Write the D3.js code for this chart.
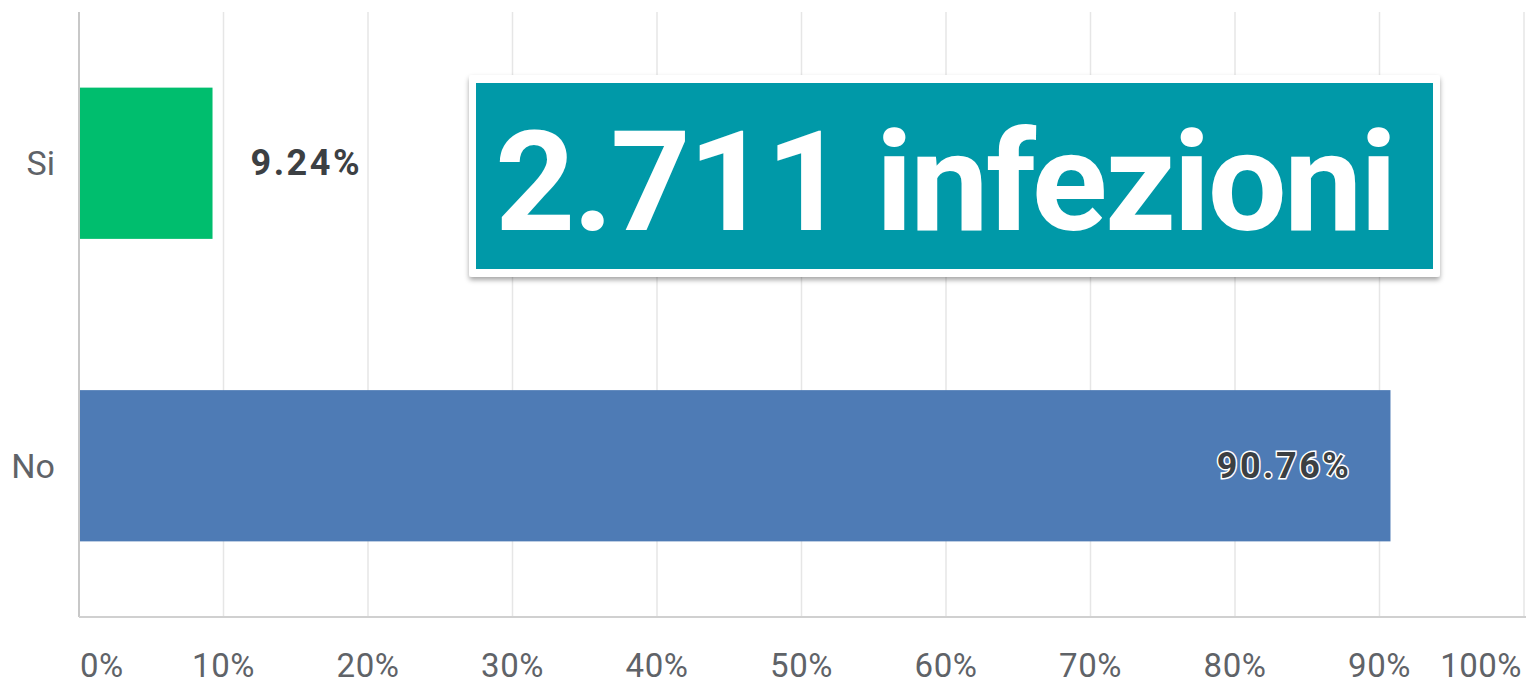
<!DOCTYPE html>
<html><head><meta charset="utf-8">
<script src="https://cdn.jsdelivr.net/npm/d3@7"></script>
<style>html,body{margin:0;padding:0;background:#fff;overflow:hidden}</style>
</head><body>
<svg id="c" width="1531" height="685"></svg>
<script>
const categories = ["Si", "No"];
const values = [9.24, 90.76];
const colors = ["#00be6e", "#4e7bb5"];
const ticks = [0, 10, 20, 30, 40, 50, 60, 70, 80, 90, 100];
const overlayText = "2.711 infezioni";

const svg = d3.select("#c");
const m = {left: 79, right: 1524, top: 12, bottom: 617};
const x = d3.scaleLinear().domain([0, 100]).range([m.left, m.right]);
const y = d3.scaleBand().domain(categories).range([m.top, m.bottom]).padding(0.5).paddingOuter(0.25);

const defs = svg.append("defs");
const f = defs.append("filter").attr("id", "sh").attr("x", "-5%").attr("y", "-10%").attr("width", "110%").attr("height", "130%");
f.append("feDropShadow").attr("dx", 0).attr("dy", 3).attr("stdDeviation", 2.5).attr("flood-color", "#000").attr("flood-opacity", 0.35);

// gridlines
svg.append("g").selectAll("line").data(ticks.slice(1)).join("line")
  .attr("x1", d => x(d)).attr("x2", d => x(d))
  .attr("y1", m.top).attr("y2", m.bottom)
  .attr("stroke", "#e6e6e6").attr("stroke-width", 1.5);

// bars
svg.append("g").selectAll("rect").data(values).join("rect")
  .attr("x", x(0)).attr("y", (d, i) => y(categories[i]))
  .attr("width", d => x(d) - x(0)).attr("height", y.bandwidth())
  .attr("fill", (d, i) => colors[i]);

// axes lines
svg.append("line").attr("x1", m.left).attr("x2", m.left).attr("y1", m.top).attr("y2", m.bottom)
  .attr("stroke", "#c8c8c8").attr("stroke-width", 2);
svg.append("line").attr("x1", m.left).attr("x2", m.right + 2).attr("y1", m.bottom).attr("y2", m.bottom)
  .attr("stroke", "#d0d0d0").attr("stroke-width", 2);

// x tick labels
svg.append("g").selectAll("text").data(ticks).join("text")
  .attr("x", (d, i) => i === 0 ? x(d) + 1 : (i === ticks.length - 1 ? x(d) - 2 : x(d)))
  .attr("y", 677)
  .attr("text-anchor", (d, i) => i === 0 ? "start" : (i === ticks.length - 1 ? "end" : "middle"))
  .attr("font-family", "Roboto, sans-serif").attr("font-size", 33).attr("fill", "#5f6368")
  .attr("letter-spacing", 0.5)
  .text(d => d + "%");

// category labels
svg.append("g").selectAll("text").data(categories).join("text")
  .attr("x", 55).attr("y", d => y(d) + y.bandwidth() / 2 + 12)
  .attr("text-anchor", "end")
  .attr("font-family", "Roboto, sans-serif").attr("font-size", 34).attr("fill", "#5f6368")
  .text(d => d);

// value labels
const fmt = v => v.toFixed(2) + "%";
values.forEach((v, i) => {
  const cy = y(categories[i]) + y.bandwidth() / 2 + 12;
  if (x(v) - x(0) > 300) {
    svg.append("text").attr("x", x(v) - 39).attr("y", cy).attr("text-anchor", "end")
      .attr("font-family", "Roboto, sans-serif").attr("font-weight", 700).attr("font-size", 36)
      .attr("fill", "#3c4043").attr("stroke", "#fff").attr("stroke-width", 3).attr("paint-order", "stroke")
      .attr("letter-spacing", 2.5)
      .text(fmt(v));
  } else {
    svg.append("text").attr("x", x(v) + 38).attr("y", cy).attr("text-anchor", "start")
      .attr("font-family", "Roboto, sans-serif").attr("font-weight", 700).attr("font-size", 36)
      .attr("fill", "#3c4043").attr("letter-spacing", 2.5)
      .text(fmt(v));
  }
});

// overlay box
svg.append("rect").attr("x", 469).attr("y", 75).attr("width", 971).attr("height", 202).attr("rx", 3)
  .attr("fill", "#fff").attr("filter", "url(#sh)");
svg.append("rect").attr("x", 476).attr("y", 83).attr("width", 957).attr("height", 186).attr("fill", "#0099a8");
const t = svg.append("text").attr("x", 495).attr("y", 230)
  .attr("font-family", "Roboto, sans-serif").attr("font-weight", 700).attr("font-size", 140)
  .attr("fill", "#fff").text(overlayText);
const w = t.node().getComputedTextLength();
if (Math.abs(w - 902) > 4) t.attr("textLength", 902).attr("lengthAdjust", "spacing");
</script>
</body></html>
